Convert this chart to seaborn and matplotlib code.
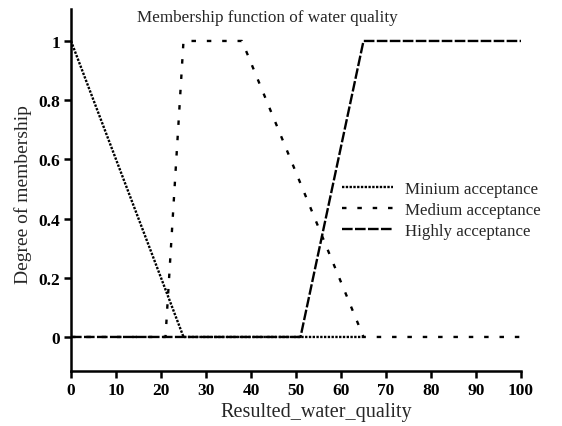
import matplotlib
matplotlib.use("Agg")
import matplotlib.pyplot as plt
import seaborn as sns
import pandas as pd

# data
min_x = [0, 25, 65]
min_y = [1, 0, 0]
med_x = [0, 21, 25, 38, 65, 100]
med_y = [0, 0, 1, 1, 0, 0]
high_x = [0, 51, 65, 100]
high_y = [0, 0, 1, 1]
labels = ["Minium acceptance", "Medium acceptance", "Highly acceptance"]
xticks = list(range(0, 101, 10))
yticks = [0, 0.2, 0.4, 0.6, 0.8, 1]
yticklabels = ["0", "0.2", "0.4", "0.6", "0.8", "1"]

sns.set_style("ticks")
plt.rcParams["font.family"] = ["Liberation Serif", "DejaVu Serif"]

fig = plt.figure(figsize=(5.62, 4.27), dpi=100)
ax = fig.add_axes([71/562, 1-372/427, 450/562, 362/427])

styles = [(0, (1, 0.6)), (0, (1.9, 4.6)), (0, (4.5, 1))]
series = [(min_x, min_y), (med_x, med_y), (high_x, high_y)]
for (xs, ys), lab, ls in zip(series, labels, styles):
    df = pd.DataFrame({"x": xs, "y": ys})
    sns.lineplot(data=df, x="x", y="y", ax=ax, color="black", lw=1.7,
                 linestyle=ls, label=lab, sort=False)

ax.set_xlim(0, 100)
ax.set_ylim(-0.115, 1.108)
ax.set_xticks(xticks)
ax.set_yticks(yticks)
ax.set_yticklabels(yticklabels)
for s in ["top", "right"]:
    ax.spines[s].set_visible(False)
for s in ["left", "bottom"]:
    ax.spines[s].set_linewidth(1.8)
    ax.spines[s].set_color("black")
ax.tick_params(axis="both", direction="out", length=5, width=1.8, labelsize=12.5,
               colors="black", pad=3)
for t in ax.get_xticklabels() + ax.get_yticklabels():
    t.set_fontweight("bold")
ax.set_xlabel("Resulted_water_quality", fontsize=14.5)
ax.set_ylabel("Degree of membership", fontsize=14)
ax.xaxis.set_label_coords((316-71)/450, (372-413)/362)
ax.xaxis.label.set_va("center")
ax.yaxis.set_label_coords((23-71)/450, (372-195)/362)
ax.yaxis.label.set_va("center")

fig.text(137/562, 1-18/427, "Membership function of water quality",
         fontsize=12.3, ha="left", va="center")

leg = ax.legend(loc="upper left", bbox_to_anchor=(342/562, 1-182/427),
                bbox_transform=fig.transFigure, frameon=False, fontsize=12.2,
                handlelength=3.0, handletextpad=0.7, labelspacing=0.3,
                borderpad=0, borderaxespad=0)

fig.savefig("out.png", dpi=100)
